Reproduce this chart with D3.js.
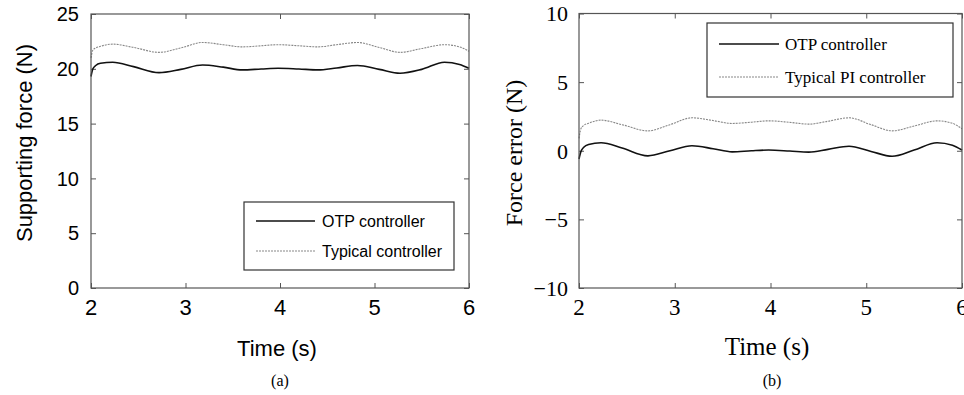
<!DOCTYPE html>
<meta charset="utf-8">
<style>
    body { margin: 0; background: #fff; }
    .frame { fill: none; stroke: #555; stroke-width: 1.2px; }
    .tick line { stroke: #555; stroke-width: 1px; }
    .otp { fill: none; stroke: #111; stroke-width: 1.6px; }
    .typ { fill: none; stroke: #888; stroke-width: 1.1px; stroke-dasharray: 2,1; }
    .legend-box { fill: #fff; stroke: #333; stroke-width: 1.2px; }
</style>
<svg id="svg" width="964" height="395"></svg>
<script src="https://d3js.org/d3.v7.min.js"></script>
<script>

// time samples (s), shared by all four curves
var time = [2.0, 2.02, 2.05, 2.1, 2.23, 2.45, 2.72, 2.95, 3.18, 3.4, 3.6, 3.8, 3.98, 4.2, 4.4, 4.6, 4.82, 5.05, 5.27, 5.5, 5.74, 5.9, 6.0];

// (a) supporting force (N)
var forceOtp = [19.3, 20.0, 20.3, 20.5, 20.6, 20.2, 19.65, 19.95, 20.35, 20.15, 19.9, 19.98, 20.05, 19.98, 19.9, 20.08, 20.3, 19.95, 19.6, 19.95, 20.6, 20.4, 20.05];
var forceTyp = [21.0, 21.7, 21.9, 22.05, 22.25, 21.95, 21.5, 21.9, 22.4, 22.2, 22.0, 22.1, 22.2, 22.1, 22.0, 22.2, 22.4, 21.95, 21.5, 21.85, 22.2, 22.0, 21.6];

// (b) force error (N)
var errOtp = [-0.6, -0.05, 0.25, 0.45, 0.58, 0.2, -0.37, 0.0, 0.36, 0.15, -0.08, 0.0, 0.05, -0.02, -0.1, 0.1, 0.33, -0.05, -0.4, 0.05, 0.58, 0.4, 0.05];
var errTyp = [0.9, 1.6, 1.85, 2.0, 2.23, 1.9, 1.45, 1.9, 2.4, 2.2, 1.99, 2.08, 2.18, 2.07, 1.94, 2.15, 2.4, 1.9, 1.45, 1.8, 2.18, 2.0, 1.6];

var xTicks = [2, 3, 4, 5, 6];
var forceTicks = [0, 5, 10, 15, 20, 25];
var errTicks = [-10, -5, 0, 5, 10];

var legendA = ["OTP controller", "Typical controller"];
var legendB = ["OTP controller", "Typical PI controller"];

var svg = d3.select("#svg");

var panels = [
  {
    left: 91, right: 469, top: 14, bottom: 288,
    yDomain: [0, 25], yTicks: forceTicks, otp: forceOtp, typ: forceTyp,
    font: "'Liberation Sans', Arial, sans-serif",
    yTickSize: 20, yTickX: 79, xTickSize: 22,
    xLabel: "Time (s)", xLabelX: 277, xLabelY: 356, xLabelSize: 22,
    yLabel: "Supporting force (N)", yLabelX: 32, yLabelY: 143, yLabelSize: 22,
    cap: "(a)", capX: 280, capY: 386,
    legend: legendA, legBox: [244, 202, 210, 68], legLine: [256, 315], legRows: [221, 251], legTextX: 322, legSize: 16
  },
  {
    left: 579, right: 962, top: 13.5, bottom: 288,
    yDomain: [-10, 10], yTicks: errTicks, otp: errOtp, typ: errTyp,
    font: "'Liberation Serif', 'Times New Roman', serif",
    yTickSize: 22, yTickX: 568, xTickSize: 23,
    xLabel: "Time (s)", xLabelX: 767, xLabelY: 355, xLabelSize: 25,
    yLabel: "Force error (N)", yLabelX: 522, yLabelY: 153, yLabelSize: 24,
    cap: "(b)", capX: 772, capY: 386,
    legend: legendB, legBox: [707, 23, 246, 74], legLine: [719, 779], legRows: [44, 77], legTextX: 785, legSize: 17
  }
];

panels.forEach(function(p) {
  var x = d3.scaleLinear().domain([2, 6]).range([p.left, p.right]);
  var y = d3.scaleLinear().domain(p.yDomain).range([p.bottom, p.top]);
  var g = svg.append("g").style("font-family", p.font);

  // inward ticks on all four sides (matlab box)
  g.append("g").attr("transform", "translate(0," + p.bottom + ")")
      .call(d3.axisBottom(x).tickValues(xTicks).tickSize(-5).tickFormat(""))
      .call(function(s) { s.select(".domain").remove(); });
  g.append("g").attr("transform", "translate(0," + p.top + ")")
      .call(d3.axisTop(x).tickValues(xTicks).tickSize(-5).tickFormat(""))
      .call(function(s) { s.select(".domain").remove(); });
  g.append("g").attr("transform", "translate(" + p.left + ",0)")
      .call(d3.axisLeft(y).tickValues(p.yTicks).tickSize(-5).tickFormat(""))
      .call(function(s) { s.select(".domain").remove(); });
  g.append("g").attr("transform", "translate(" + p.right + ",0)")
      .call(d3.axisRight(y).tickValues(p.yTicks).tickSize(-5).tickFormat(""))
      .call(function(s) { s.select(".domain").remove(); });

  // tick labels
  g.selectAll(".ylab").data(p.yTicks).enter().append("text")
      .attr("x", p.yTickX).attr("y", function(d) { return y(d); })
      .attr("dy", "0.36em").attr("text-anchor", "end")
      .style("font-size", p.yTickSize + "px")
      .text(function(d) { return d < 0 ? "\u2212" + (-d) : d; });
  g.selectAll(".xlab").data(xTicks).enter().append("text")
      .attr("x", function(d) { return x(d); }).attr("y", 315)
      .attr("text-anchor", "middle")
      .style("font-size", p.xTickSize + "px")
      .text(function(d) { return d; });

  var line = d3.line()
      .x(function(d, i) { return x(time[i]); })
      .y(function(d) { return y(d); })
      .curve(d3.curveMonotoneX);

  g.append("path").datum(p.typ).attr("class", "typ").attr("d", line);
  g.append("path").datum(p.otp).attr("class", "otp").attr("d", line);

  g.append("rect").attr("class", "frame")
      .attr("x", p.left).attr("y", p.top)
      .attr("width", p.right - p.left).attr("height", p.bottom - p.top);

  // legend
  g.append("rect").attr("class", "legend-box")
      .attr("x", p.legBox[0]).attr("y", p.legBox[1])
      .attr("width", p.legBox[2]).attr("height", p.legBox[3]);
  p.legend.forEach(function(name, i) {
    g.append("line").attr("class", i === 0 ? "otp" : "typ")
        .attr("x1", p.legLine[0]).attr("x2", p.legLine[1])
        .attr("y1", p.legRows[i]).attr("y2", p.legRows[i]);
    g.append("text").attr("x", p.legTextX).attr("y", p.legRows[i])
        .attr("dy", "0.35em").style("font-size", p.legSize + "px")
        .text(name);
  });

  // axis titles and caption
  g.append("text").attr("x", p.xLabelX).attr("y", p.xLabelY)
      .attr("text-anchor", "middle").style("font-size", p.xLabelSize + "px")
      .text(p.xLabel);
  g.append("text")
      .attr("transform", "translate(" + p.yLabelX + "," + p.yLabelY + ") rotate(-90)")
      .attr("text-anchor", "middle").style("font-size", p.yLabelSize + "px")
      .text(p.yLabel);
  g.append("text").attr("x", p.capX).attr("y", p.capY)
      .attr("text-anchor", "middle")
      .style("font-family", "'Liberation Serif', 'Times New Roman', serif")
      .style("font-size", "16px")
      .text(p.cap);
});

</script>
